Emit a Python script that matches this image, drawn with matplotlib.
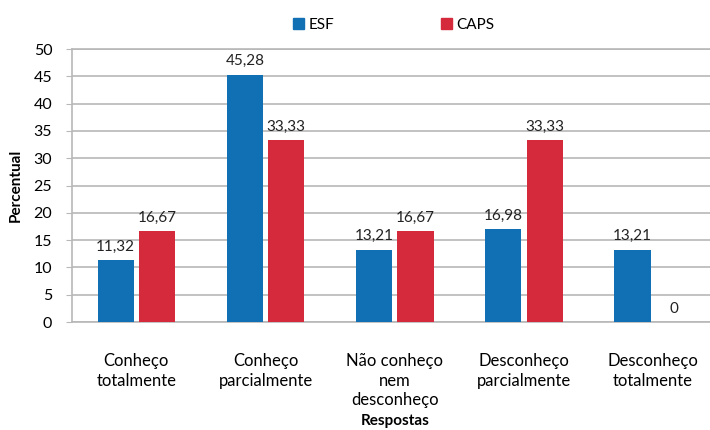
import numpy as np
import matplotlib
matplotlib.use("Agg")
import matplotlib.pyplot as plt
from matplotlib.patches import Patch

plt.rcParams['font.family'] = ['Lato', 'DejaVu Sans']

# Data
categories = ["Conheço\ntotalmente", "Conheço\nparcialmente", "Não conheço\nnem\ndesconheço",
              "Desconheço\nparcialmente", "Desconheço\ntotalmente"]
esf = [11.32, 45.28, 13.21, 16.98, 13.21]
caps = [16.67, 33.33, 16.67, 33.33, 0]
series_names = ["ESF", "CAPS"]
yticks = [0, 5, 10, 15, 20, 25, 30, 35, 40, 45, 50]

blue = '#1170b4'
red = '#d42a3c'
grid_col = '#b8b8b8'

fig = plt.figure(figsize=(7.1, 4.3), dpi=100)
ax = fig.add_axes([0.101, 0.251, 0.91, 0.635])

x = np.arange(len(categories))
w = 0.28
gap = 0.02
b1 = ax.bar(x - w / 2 - gap, esf, w, color=blue, zorder=3)
b2 = ax.bar(x + w / 2 + gap, caps, w, color=red, zorder=3)

def fmt(v):
    return ("%.2f" % v).replace('.', ',') if v != 0 else "0"

for rects, vals in [(b1, esf), (b2, caps)]:
    for r, v in zip(rects, vals):
        ax.text(r.get_x() + r.get_width() / 2, v + 1.2, fmt(v),
                ha='center', va='bottom', fontsize=11, color='#222222')

ax.set_xlim(-0.5, len(categories) - 0.5)
ax.set_ylim(0, 50)
ax.set_yticks(yticks)
ax.yaxis.grid(True, color=grid_col, linewidth=1.2, zorder=0)
ax.set_xticks(x)
ax.set_xticklabels(categories, fontsize=12, linespacing=1.3)
ax.tick_params(axis='x', length=0, pad=22)
ax.tick_params(axis='y', length=4, color=grid_col, pad=10, labelsize=11.5)
for s in ax.spines.values():
    s.set_color(grid_col)
    s.set_linewidth(1.2)

ax.set_ylabel("Percentual", fontsize=11, fontweight='bold', labelpad=8)
ax.set_xlabel("Respostas", fontsize=11, fontweight='bold', labelpad=4)

handles = [Patch(color=blue), Patch(color=red)]
fig.legend(handles, series_names, loc='center', bbox_to_anchor=(0.555, 0.942),
           ncol=2, frameon=False, fontsize=11, handlelength=0.7, handleheight=0.7,
           handletextpad=0.3, columnspacing=7)

fig.savefig("out.png", dpi=100)
